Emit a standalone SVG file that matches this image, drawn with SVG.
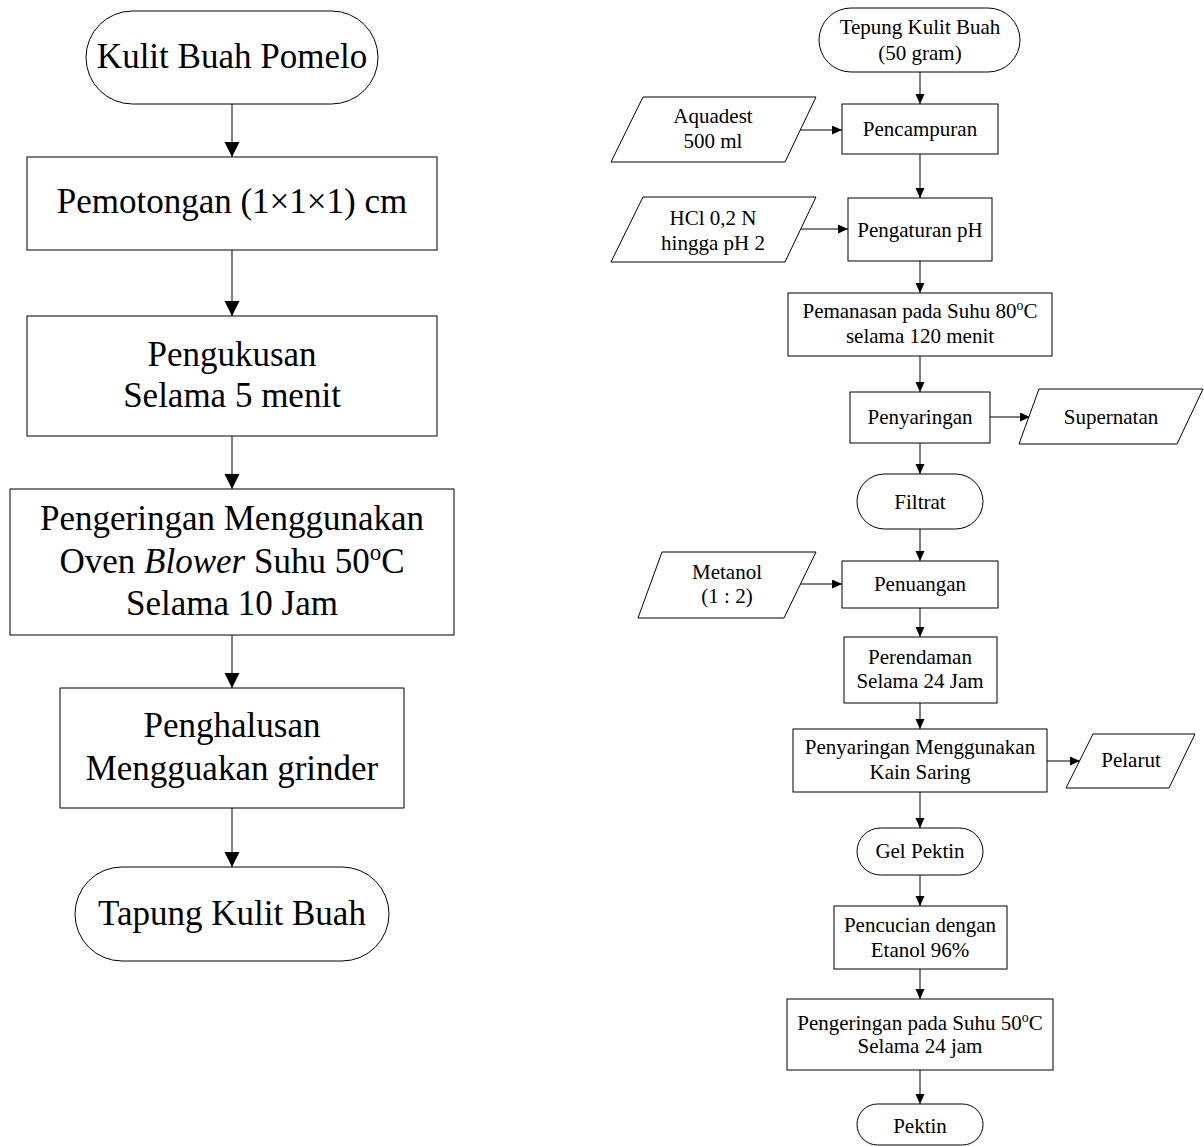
<svg xmlns="http://www.w3.org/2000/svg" width="1204" height="1146" viewBox="0 0 1204 1146">
<defs>
<style>
.s{fill:#fff;stroke:#000;stroke-width:1}
.c{fill:none;stroke:#000;stroke-width:1}
.tl{font-family:"Liberation Serif","Times New Roman",serif;font-size:35px;text-anchor:middle;fill:#000}
.tr{font-family:"Liberation Serif","Times New Roman",serif;font-size:21px;text-anchor:middle;fill:#000}
</style>
<marker id="aL" markerUnits="userSpaceOnUse" markerWidth="16" markerHeight="16" refX="15" refY="7.5" orient="auto">
<path d="M0,0 L15,7.5 L0,15 Z" fill="#000"/>
</marker>
<marker id="aR" markerUnits="userSpaceOnUse" markerWidth="11" markerHeight="10" refX="10" refY="4.5" orient="auto">
<path d="M0,0 L10,4.5 L0,9 Z" fill="#000"/>
</marker>
</defs>
<rect width="1204" height="1146" fill="#fff"/>

<g id="connectors">
<g marker-end="url(#aL)" class="c">
<line x1="232" y1="104" x2="232" y2="157"/>
<line x1="232" y1="250" x2="232" y2="316"/>
<line x1="232" y1="436" x2="232" y2="489"/>
<line x1="232" y1="635" x2="232" y2="688"/>
<line x1="232" y1="808" x2="232" y2="867"/>
</g>
<g marker-end="url(#aR)" class="c">
<line x1="920" y1="72" x2="920" y2="104"/>
<line x1="920" y1="154" x2="920" y2="198"/>
<line x1="920" y1="261" x2="920" y2="293"/>
<line x1="920" y1="356" x2="920" y2="392"/>
<line x1="920" y1="443" x2="920" y2="474"/>
<line x1="920" y1="529" x2="920" y2="561"/>
<line x1="920" y1="608" x2="920" y2="637"/>
<line x1="920" y1="703" x2="920" y2="729"/>
<line x1="920" y1="792" x2="920" y2="828"/>
<line x1="920" y1="875" x2="920" y2="906"/>
<line x1="920" y1="969" x2="920" y2="999"/>
<line x1="920" y1="1070" x2="920" y2="1104"/>
<line x1="800" y1="130" x2="842" y2="130"/>
<line x1="801" y1="229" x2="848" y2="229"/>
<line x1="990" y1="417" x2="1030" y2="417"/>
<line x1="800" y1="584" x2="842" y2="584"/>
<line x1="1047" y1="761" x2="1080" y2="761"/>
</g>
</g>

<g id="kulit-buah-pomelo">
<rect class="s" x="86" y="11" width="292" height="93" rx="46.5"/>
<text class="tl" x="232" y="68">Kulit Buah Pomelo</text>
</g>
<g id="pemotongan">
<rect class="s" x="27" y="157" width="410" height="93"/>
<text class="tl" x="232" y="213">Pemotongan (1×1×1) cm</text>
</g>
<g id="pengukusan">
<rect class="s" x="27" y="316" width="410" height="120"/>
<text class="tl" x="232" y="366">Pengukusan</text>
<text class="tl" x="232" y="407">Selama 5 menit</text>
</g>
<g id="pengeringan-oven">
<rect class="s" x="10" y="489" width="444" height="146"/>
<text class="tl" x="232" y="530">Pengeringan Menggunakan</text>
<text class="tl" x="232" y="573">Oven <tspan font-style="italic">Blower</tspan> Suhu 50<tspan dy="-13" font-size="23">o</tspan><tspan dy="13">C</tspan></text>
<text class="tl" x="232" y="615">Selama 10 Jam</text>
</g>
<g id="penghalusan">
<rect class="s" x="60" y="688" width="344" height="120"/>
<text class="tl" x="232" y="737">Penghalusan</text>
<text class="tl" x="232" y="780">Mengguakan grinder</text>
</g>
<g id="tapung-kulit-buah">
<rect class="s" x="75" y="867" width="314" height="94" rx="47"/>
<text class="tl" x="232" y="925">Tapung Kulit Buah</text>
</g>

<g id="tepung-kulit-buah">
<rect class="s" x="819" y="8" width="201" height="64" rx="32"/>
<text class="tr" x="920" y="34">Tepung Kulit Buah</text>
<text class="tr" x="920" y="60">(50 gram)</text>
</g>
<g id="aquadest">
<polygon class="s" points="643,97 816,97 785,162 611,162"/>
<text class="tr" x="713" y="123">Aquadest</text>
<text class="tr" x="713" y="148">500 ml</text>
</g>
<g id="pencampuran">
<rect class="s" x="842" y="104" width="156" height="50"/>
<text class="tr" x="920" y="136">Pencampuran</text>
</g>
<g id="hcl">
<polygon class="s" points="643,197 816,197 785,262 611,262"/>
<text class="tr" x="713" y="225">HCl 0,2 N</text>
<text class="tr" x="713" y="250">hingga pH 2</text>
</g>
<g id="pengaturan-ph">
<rect class="s" x="848" y="198" width="144" height="63"/>
<text class="tr" x="920" y="237">Pengaturan pH</text>
</g>
<g id="pemanasan">
<rect class="s" x="788" y="293" width="264" height="63"/>
<text class="tr" x="920" y="318">Pemanasan pada Suhu 80<tspan dy="-8" font-size="14">o</tspan><tspan dy="8">C</tspan></text>
<text class="tr" x="920" y="343">selama 120 menit</text>
</g>
<g id="penyaringan">
<rect class="s" x="850" y="392" width="140" height="51"/>
<text class="tr" x="920" y="424">Penyaringan</text>
</g>
<g id="supernatan">
<polygon class="s" points="1039,389 1203,389 1177,444 1019,444"/>
<text class="tr" x="1111" y="424">Supernatan</text>
</g>
<g id="filtrat">
<rect class="s" x="857" y="474" width="126" height="55" rx="27.5"/>
<text class="tr" x="920" y="509">Filtrat</text>
</g>
<g id="metanol">
<polygon class="s" points="662,552 816,552 784,618 638,618"/>
<text class="tr" x="727" y="579">Metanol</text>
<text class="tr" x="727" y="603">(1 : 2)</text>
</g>
<g id="penuangan">
<rect class="s" x="842" y="561" width="156" height="47"/>
<text class="tr" x="920" y="591">Penuangan</text>
</g>
<g id="perendaman">
<rect class="s" x="844" y="637" width="153" height="66"/>
<text class="tr" x="920" y="664">Perendaman</text>
<text class="tr" x="920" y="688">Selama 24 Jam</text>
</g>
<g id="penyaringan-kain">
<rect class="s" x="793" y="729" width="254" height="63"/>
<text class="tr" x="920" y="754">Penyaringan Menggunakan</text>
<text class="tr" x="920" y="779">Kain Saring</text>
</g>
<g id="pelarut">
<polygon class="s" points="1093,734 1195,734 1169,788 1066,788"/>
<text class="tr" x="1131" y="767">Pelarut</text>
</g>
<g id="gel-pektin">
<rect class="s" x="857" y="828" width="126" height="47" rx="23.5"/>
<text class="tr" x="920" y="858">Gel Pektin</text>
</g>
<g id="pencucian">
<rect class="s" x="834" y="906" width="173" height="63"/>
<text class="tr" x="920" y="932">Pencucian dengan</text>
<text class="tr" x="920" y="957">Etanol 96%</text>
</g>
<g id="pengeringan-suhu">
<rect class="s" x="787" y="999" width="266" height="71"/>
<text class="tr" x="920" y="1030">Pengeringan pada Suhu 50<tspan dy="-8" font-size="14">o</tspan><tspan dy="8">C</tspan></text>
<text class="tr" x="920" y="1053">Selama 24 jam</text>
</g>
<g id="pektin">
<rect class="s" x="857" y="1104" width="126" height="41" rx="20.5"/>
<text class="tr" x="920" y="1133">Pektin</text>
</g>
</svg>
